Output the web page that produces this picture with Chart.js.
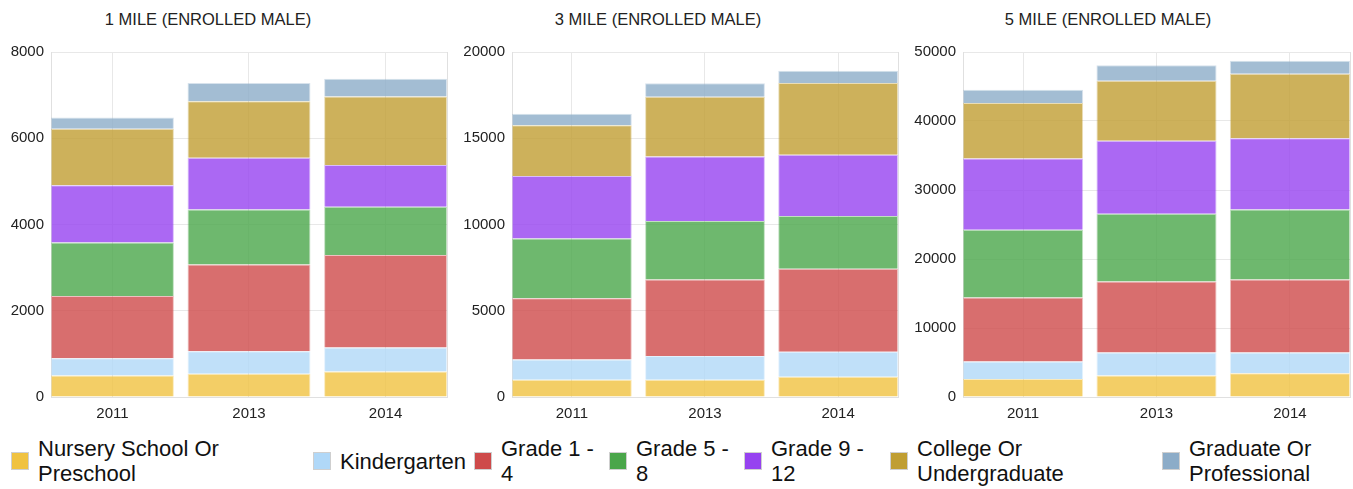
<!DOCTYPE html>
<html>
<head>
<meta charset="utf-8">
<script src="https://cdn.jsdelivr.net/npm/chart.js@4/dist/chart.umd.min.js"></script>
<style>
  html, body { margin: 0; padding: 0; background: #fff; }
  body { width: 1353px; height: 489px; overflow: hidden; position: relative;
         font-family: "Liberation Sans", Arial, sans-serif; color: #222; }
  .panel { position: absolute; top: 36px; height: 389px; }
  .panel canvas { display: block; }
  .title { position: absolute; top: 9px; font-size: 16.5px; line-height: 20px;
           white-space: nowrap; transform: translateX(-50%); color: #222; }
  .lg { position: absolute; top: 436px; height: 50px; display: flex; align-items: center; }
  .lg .box { width: 16px; height: 16px; border: 1px solid #cfcfcf; flex: none; }
  .lg .txt { margin-left: 9px; font-size: 22px; line-height: 25px; color: #111; }
</style>
</head>
<body>
<div class="title" style="left:208px">1 MILE (ENROLLED MALE)</div>
<div class="title" style="left:658px">3 MILE (ENROLLED MALE)</div>
<div class="title" style="left:1108px">5 MILE (ENROLLED MALE)</div>

<div class="panel" style="left:0px;width:450px"><canvas id="c1"></canvas></div>
<div class="panel" style="left:450px;width:451px"><canvas id="c2"></canvas></div>
<div class="panel" style="left:901px;width:452px"><canvas id="c3"></canvas></div>

<div id="legend"></div>

<script>
// ---- data ----
const categories = ['2011', '2013', '2014'];
const seriesNames = ['Nursery School Or Preschool', 'Kindergarten', 'Grade 1 - 4', 'Grade 5 - 8',
                     'Grade 9 - 12', 'College Or Undergraduate', 'Graduate Or Professional'];
const panelTitles = ['1 MILE (ENROLLED MALE)', '3 MILE (ENROLLED MALE)', '5 MILE (ENROLLED MALE)'];

// 1 mile
const mile1Nursery  = [500, 540, 590];
const mile1Kinder   = [400, 520, 560];
const mile1Grade1_4 = [1440, 2010, 2140];
const mile1Grade5_8 = [1240, 1280, 1120];
const mile1Grade9_12 = [1330, 1200, 970];
const mile1College  = [1310, 1310, 1590];
const mile1Graduate = [260, 420, 410];

// 3 mile
const mile3Nursery  = [1000, 1000, 1170];
const mile3Kinder   = [1170, 1370, 1450];
const mile3Grade1_4 = [3560, 4440, 4820];
const mile3Grade5_8 = [3460, 3400, 3060];
const mile3Grade9_12 = [3620, 3730, 3540];
const mile3College  = [2940, 3460, 4170];
const mile3Graduate = [670, 790, 710];

// 5 mile
const mile5Nursery  = [2600, 3130, 3460];
const mile5Kinder   = [2540, 3310, 2980];
const mile5Grade1_4 = [9280, 10290, 10580];
const mile5Grade5_8 = [9810, 9810, 10140];
const mile5Grade9_12 = [10340, 10580, 10340];
const mile5College  = [8030, 8700, 9330];
const mile5Graduate = [1920, 2260, 1920];

// y axis ticks
const mile1YMax = 8000,  mile1YStep = 2000;
const mile3YMax = 20000, mile3YStep = 5000;
const mile5YMax = 50000, mile5YStep = 10000;

// ---- styles ----
const baseColors = ['240,194,64', '176,216,248', '206,74,74', '74,166,74',
                    '150,66,240', '192,158,50', '140,172,200'];
const legendLefts = [11, 313, 474, 609, 744, 890, 1162];
const legendTextWidths = [190, 140, 100, 100, 100, 150, 130];

const panels = [
  { id: 'c1', series: [mile1Nursery, mile1Kinder, mile1Grade1_4, mile1Grade5_8, mile1Grade9_12, mile1College, mile1Graduate],
    max: mile1YMax, step: mile1YStep, yWidth: 51 },
  { id: 'c2', series: [mile3Nursery, mile3Kinder, mile3Grade1_4, mile3Grade5_8, mile3Grade9_12, mile3College, mile3Graduate],
    max: mile3YMax, step: mile3YStep, yWidth: 62 },
  { id: 'c3', series: [mile5Nursery, mile5Kinder, mile5Grade1_4, mile5Grade5_8, mile5Grade9_12, mile5College, mile5Graduate],
    max: mile5YMax, step: mile5YStep, yWidth: 62 }
];

const gridColor = '#e8e8e8';
const tickFont = { family: '"Liberation Sans", Arial, sans-serif', size: 15 };

panels.forEach(p => {
  const datasets = p.series.map((vals, si) => ({
    label: seriesNames[si],
    data: vals.map((v, i) => ({ x: i, y: v })),
    backgroundColor: 'rgba(' + baseColors[si] + ',0.8)',
    borderColor: 'rgba(' + baseColors[si] + ',0.35)',
    borderWidth: 1,
    categoryPercentage: 1,
    barPercentage: 0.9
  }));
  new Chart(document.getElementById(p.id), {
    type: 'bar',
    data: { datasets },
    options: {
      responsive: true,
      maintainAspectRatio: false,
      animation: false,
      layout: { padding: { top: 0, right: 3, left: 0, bottom: 0 } },
      plugins: { legend: { display: false }, tooltip: { enabled: false }, title: { display: false } },
      scales: {
        x: {
          type: 'linear', stacked: true, min: -0.45, max: 2.45, offset: false,
          grid: { color: gridColor, drawTicks: false, offset: false },
          border: { color: '#e0e0e0' },
          ticks: {
            stepSize: 1, includeBounds: false, autoSkip: false, maxRotation: 0,
            padding: 8, color: '#222', font: tickFont,
            callback: v => (Number.isInteger(v) && categories[v] !== undefined) ? categories[v] : ''
          },
          afterFit: s => { s.height = 28; }
        },
        y: {
          stacked: true, min: 0, max: p.max,
          grid: { color: gridColor, drawTicks: false },
          border: { color: '#e0e0e0' },
          ticks: { stepSize: p.step, padding: 7, color: '#222', font: tickFont,
                   callback: v => String(v) },
          afterFit: s => { s.width = p.yWidth; }
        },
        yRight: {
          position: 'right', min: 0, max: p.max,
          grid: { display: false, drawTicks: false },
          border: { display: true, color: '#e0e0e0' },
          ticks: { display: false },
          afterFit: s => { s.width = 0; }
        }
      }
    }
  });
});

// ---- HTML legend ----
const legend = document.getElementById('legend');
seriesNames.forEach((name, i) => {
  const item = document.createElement('div');
  item.className = 'lg';
  item.style.left = legendLefts[i] + 'px';
  const box = document.createElement('div');
  box.className = 'box';
  box.style.background = 'rgb(' + baseColors[i] + ')';
  const txt = document.createElement('div');
  txt.className = 'txt';
  txt.style.maxWidth = legendTextWidths[i] + 'px';
  txt.textContent = name;
  item.appendChild(box);
  item.appendChild(txt);
  legend.appendChild(item);
});
</script>
</body>
</html>
